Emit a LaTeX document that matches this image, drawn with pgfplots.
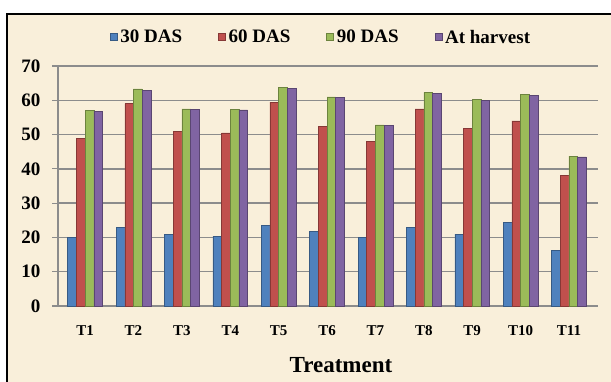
\documentclass[border=0pt]{standalone}
\usepackage{pgfplots}
\pgfplotsset{compat=1.18}
\usepackage{fontspec}
\setmainfont{Liberation Serif}
\definecolor{bg}{RGB}{249,239,218}
\definecolor{sblue}{RGB}{79,129,189}
\definecolor{sred}{RGB}{192,80,77}
\definecolor{sgreen}{RGB}{155,187,89}
\definecolor{spurple}{RGB}{128,100,162}
\definecolor{gridc}{RGB}{140,140,140}
\begin{document}
\begin{tikzpicture}[x=1pt,y=1pt]
\path[use as bounding box] (0,0) rectangle (611,381);
\draw[line width=2pt,fill=bg] (7,367) rectangle (630,-20);
\begin{axis}[
  at={(58pt,75pt)}, anchor=origin,
  width=540pt, height=240pt, scale only axis,
  ybar=0pt, bar width=8.7pt,
  xmin=0.44, xmax=11.6, ymin=0, ymax=70,
  ytick={0,10,...,70},
  xtick={1,...,11},
  xticklabels={T1,T2,T3,T4,T5,T6,T7,T8,T9,T10,T11},
  axis x line*=bottom, axis y line*=left,
  axis line style={gridc, line width=1.5pt},
  ymajorgrids, grid style={gridc, line width=1.5pt},
  x axis line style={-}, y axis line style={-},
  tick align=outside,
  x tick style={draw=none},
  y tick style={gridc, line width=1.2pt},
  major tick length=6pt,
  /pgf/number format/assume math mode=true,
  yticklabel style={font=\bfseries\fontsize{19}{19}\selectfont, xshift=-8pt},
  xticklabel style={font=\bfseries\fontsize{15}{15}\selectfont, yshift=-10pt},
  xlabel={Treatment},
  xlabel style={font=\bfseries\fontsize{23}{23}\selectfont, at={(axis description cs:0.524,-0.246)}, anchor=center},
  legend columns=4,
  legend style={at={(axis description cs:0.487,1.12)}, anchor=center, draw=none, fill=none,
    font=\bfseries\fontsize{19}{19}\selectfont,
    /tikz/every even column/.append style={column sep=34pt},
    /tikz/every odd column/.append style={column sep=1pt}},
  legend image code/.code={\fill[#1] (0pt,-3.5pt) rectangle (7pt,3.5pt);},
  clip=false,
]
\addplot[fill=sblue, draw=sblue!70!black, line width=0.5pt] coordinates {(1,20) (2,23) (3,21) (4,20.3) (5,23.5) (6,21.8) (7,20) (8,23) (9,21) (10,24.5) (11,16.3)};
\addplot[fill=sred, draw=sred!70!black, line width=0.5pt] coordinates {(1,49) (2,59) (3,51) (4,50.5) (5,59.5) (6,52.5) (7,48) (8,57.5) (9,51.8) (10,54) (11,38)};
\addplot[fill=sgreen, draw=sgreen!70!black, line width=0.5pt] coordinates {(1,57) (2,63.3) (3,57.5) (4,57.3) (5,63.7) (6,61) (7,52.8) (8,62.3) (9,60.2) (10,61.8) (11,43.7)};
\addplot[fill=spurple, draw=spurple!70!black, line width=0.5pt] coordinates {(1,56.8) (2,63) (3,57.4) (4,57.2) (5,63.5) (6,60.9) (7,52.6) (8,62) (9,60) (10,61.5) (11,43.5)};
\legend{30 DAS, 60 DAS, 90 DAS, At harvest}
\end{axis}
\end{tikzpicture}
\end{document}
